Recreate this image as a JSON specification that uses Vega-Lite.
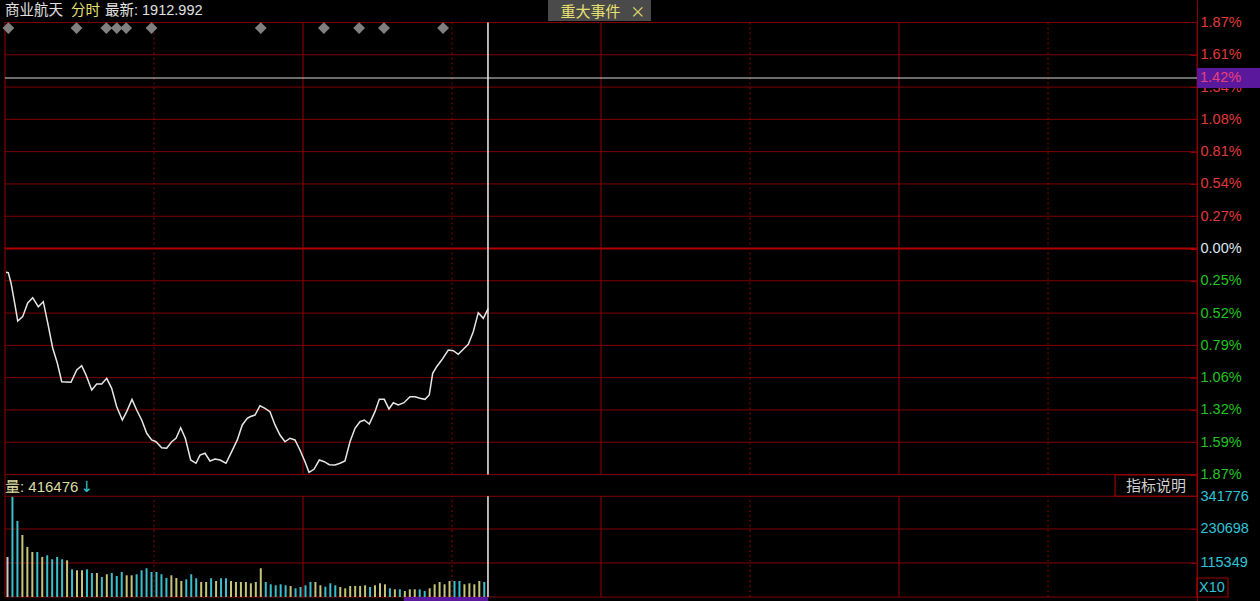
{
  "$schema": "https://vega.github.io/schema/vega-lite/v6.json",
  "width": 1260,
  "height": 601,
  "autosize": "none",
  "padding": 0,
  "background": "#000000",
  "config": {"view": {"stroke": null}, "font": "Liberation Sans, Noto Sans CJK SC", "scale": {"continuousPadding": 0}},
  "datasets": {
    "hgridpos": [{"p": 1.87}, {"p": 1.602857}, {"p": 1.335714}, {"p": 1.068571}, {"p": 0.801429}, {"p": 0.534286}, {"p": 0.267143}],
    "hgridneg": [{"p": -0.267143}, {"p": -0.534286}, {"p": -0.801429}, {"p": -1.068571}, {"p": -1.335714}, {"p": -1.602857}, {"p": -1.87}],
    "vsolid": [{"t": 0}, {"t": 60}, {"t": 120}, {"t": 180}, {"t": 240}],
    "vdot": [{"t": 30}, {"t": 90}, {"t": 150}, {"t": 210}],
    "price": [
      {"t": 0.2, "p": -0.197}, {"t": 0.66, "p": -0.2}, {"t": 1.21, "p": -0.285}, {"t": 2.01, "p": -0.467}, {"t": 2.56, "p": -0.6}, {"t": 3.56, "p": -0.564}, {"t": 4.57, "p": -0.451}, {"t": 5.58, "p": -0.407}, {"t": 6.7, "p": -0.482}, {"t": 7.71, "p": -0.44}, {"t": 8.6, "p": -0.616}, {"t": 9.6, "p": -0.823}, {"t": 10.53, "p": -0.947}, {"t": 11.42, "p": -1.102}, {"t": 13.29, "p": -1.107}, {"t": 14.44, "p": -1.005}, {"t": 15.44, "p": -0.97}, {"t": 16.31, "p": -1.047}, {"t": 17.46, "p": -1.171}, {"t": 18.46, "p": -1.121}, {"t": 19.47, "p": -1.121}, {"t": 20.48, "p": -1.074}, {"t": 21.48, "p": -1.157}, {"t": 22.49, "p": -1.309}, {"t": 23.62, "p": -1.419}, {"t": 24.5, "p": -1.35}, {"t": 25.57, "p": -1.248}, {"t": 26.51, "p": -1.336}, {"t": 27.52, "p": -1.419}, {"t": 28.53, "p": -1.529}, {"t": 29.53, "p": -1.584}, {"t": 30.4, "p": -1.599}, {"t": 31.55, "p": -1.648}, {"t": 32.55, "p": -1.653}, {"t": 33.56, "p": -1.599}, {"t": 34.43, "p": -1.57}, {"t": 35.37, "p": -1.483}, {"t": 36.3, "p": -1.57}, {"t": 37.39, "p": -1.75}, {"t": 38.45, "p": -1.777}, {"t": 39.26, "p": -1.709}, {"t": 40.27, "p": -1.694}, {"t": 41.27, "p": -1.758}, {"t": 42.28, "p": -1.742}, {"t": 43.29, "p": -1.75}, {"t": 44.49, "p": -1.777}, {"t": 45.64, "p": -1.681}, {"t": 46.77, "p": -1.584}, {"t": 47.77, "p": -1.46}, {"t": 48.78, "p": -1.405}, {"t": 49.33, "p": -1.392}, {"t": 50.33, "p": -1.378}, {"t": 51.34, "p": -1.301}, {"t": 52.35, "p": -1.322}, {"t": 53.35, "p": -1.35}, {"t": 54.36, "p": -1.46}, {"t": 55.37, "p": -1.543}, {"t": 56.37, "p": -1.599}, {"t": 57.38, "p": -1.57}, {"t": 58.38, "p": -1.584}, {"t": 59.39, "p": -1.667}, {"t": 60.4, "p": -1.764}, {"t": 61.21, "p": -1.852}, {"t": 62.21, "p": -1.827}, {"t": 63.28, "p": -1.75}, {"t": 64.28, "p": -1.764}, {"t": 65.29, "p": -1.789}, {"t": 66.44, "p": -1.791}, {"t": 67.45, "p": -1.777}, {"t": 68.45, "p": -1.758}, {"t": 69.46, "p": -1.599}, {"t": 70.47, "p": -1.488}, {"t": 71.47, "p": -1.433}, {"t": 72.34, "p": -1.419}, {"t": 73.35, "p": -1.452}, {"t": 74.49, "p": -1.35}, {"t": 75.36, "p": -1.248}, {"t": 76.36, "p": -1.248}, {"t": 77.31, "p": -1.328}, {"t": 78.18, "p": -1.276}, {"t": 79.18, "p": -1.295}, {"t": 80.33, "p": -1.276}, {"t": 81.54, "p": -1.226}, {"t": 82.55, "p": -1.226}, {"t": 83.55, "p": -1.239}, {"t": 84.56, "p": -1.248}, {"t": 85.42, "p": -1.212}, {"t": 86.11, "p": -1.033}, {"t": 86.91, "p": -0.978}, {"t": 87.92, "p": -0.923}, {"t": 89.25, "p": -0.84}, {"t": 90.26, "p": -0.846}, {"t": 91.26, "p": -0.875}, {"t": 92.27, "p": -0.834}, {"t": 93.28, "p": -0.793}, {"t": 94.28, "p": -0.688}, {"t": 95.29, "p": -0.531}, {"t": 96.3, "p": -0.578}, {"t": 97.3, "p": -0.495}
    ],
    "events": [{"t": 0.68}, {"t": 14.4}, {"t": 20.4}, {"t": 22.5}, {"t": 24.4}, {"t": 29.5}, {"t": 51.5}, {"t": 64.2}, {"t": 71.3}, {"t": 76.3}, {"t": 88.2}],
    "vol": [
      {"t": 0.5, "v": 135800, "k": "n"}, {"t": 1.5, "v": 340000, "k": "d"}, {"t": 2.5, "v": 258000, "k": "d"}, {"t": 3.5, "v": 210400, "k": "u"}, {"t": 4.5, "v": 169700, "k": "u"}, {"t": 5.5, "v": 152700, "k": "u"}, {"t": 6.5, "v": 152700, "k": "d"}, {"t": 7.5, "v": 135800, "k": "u"}, {"t": 8.5, "v": 141500, "k": "d"}, {"t": 9.5, "v": 128000, "k": "d"},
      {"t": 10.5, "v": 135800, "k": "d"}, {"t": 11.5, "v": 128000, "k": "d"}, {"t": 12.5, "v": 124500, "k": "u"}, {"t": 13.5, "v": 94000, "k": "d"}, {"t": 14.5, "v": 90600, "k": "u"}, {"t": 15.5, "v": 90600, "k": "u"}, {"t": 16.5, "v": 94000, "k": "d"}, {"t": 17.5, "v": 81500, "k": "d"}, {"t": 18.5, "v": 81500, "k": "u"}, {"t": 19.5, "v": 67900, "k": "d"},
      {"t": 20.5, "v": 77000, "k": "u"}, {"t": 21.5, "v": 81500, "k": "d"}, {"t": 22.5, "v": 71300, "k": "d"}, {"t": 23.5, "v": 84900, "k": "d"}, {"t": 24.5, "v": 73600, "k": "u"}, {"t": 25.5, "v": 73600, "k": "u"}, {"t": 26.5, "v": 77000, "k": "d"}, {"t": 27.5, "v": 90600, "k": "d"}, {"t": 28.5, "v": 97400, "k": "d"}, {"t": 29.5, "v": 84900, "k": "d"},
      {"t": 30.5, "v": 84900, "k": "d"}, {"t": 31.5, "v": 77000, "k": "d"}, {"t": 32.5, "v": 64500, "k": "d"}, {"t": 33.5, "v": 73600, "k": "u"}, {"t": 34.5, "v": 64500, "k": "u"}, {"t": 35.5, "v": 54300, "k": "u"}, {"t": 36.5, "v": 60000, "k": "d"}, {"t": 37.5, "v": 77000, "k": "d"}, {"t": 38.5, "v": 63500, "k": "d"}, {"t": 39.5, "v": 50900, "k": "u"},
      {"t": 40.5, "v": 50900, "k": "u"}, {"t": 41.5, "v": 63500, "k": "d"}, {"t": 42.5, "v": 54300, "k": "u"}, {"t": 43.5, "v": 63500, "k": "d"}, {"t": 44.5, "v": 63500, "k": "d"}, {"t": 45.5, "v": 54300, "k": "u"}, {"t": 46.5, "v": 50900, "k": "u"}, {"t": 47.5, "v": 50900, "k": "u"}, {"t": 48.5, "v": 50900, "k": "u"}, {"t": 49.5, "v": 46500, "k": "u"},
      {"t": 50.5, "v": 50900, "k": "u"}, {"t": 51.5, "v": 97400, "k": "u"}, {"t": 52.5, "v": 50900, "k": "d"}, {"t": 53.5, "v": 43100, "k": "d"}, {"t": 54.5, "v": 39700, "k": "d"}, {"t": 55.5, "v": 43100, "k": "d"}, {"t": 56.5, "v": 39700, "k": "d"}, {"t": 57.5, "v": 37300, "k": "u"}, {"t": 58.5, "v": 29500, "k": "d"}, {"t": 59.5, "v": 33900, "k": "d"},
      {"t": 60.5, "v": 39700, "k": "d"}, {"t": 61.5, "v": 50900, "k": "d"}, {"t": 62.5, "v": 50900, "k": "u"}, {"t": 63.5, "v": 39700, "k": "u"}, {"t": 64.5, "v": 35000, "k": "d"}, {"t": 65.5, "v": 46500, "k": "d"}, {"t": 66.5, "v": 39700, "k": "d"}, {"t": 67.5, "v": 33900, "k": "u"}, {"t": 68.5, "v": 29500, "k": "u"}, {"t": 69.5, "v": 37300, "k": "u"},
      {"t": 70.5, "v": 37300, "k": "u"}, {"t": 71.5, "v": 37300, "k": "u"}, {"t": 72.5, "v": 39700, "k": "u"}, {"t": 73.5, "v": 33900, "k": "d"}, {"t": 74.5, "v": 39700, "k": "u"}, {"t": 75.5, "v": 46500, "k": "u"}, {"t": 76.5, "v": 43100, "k": "u"}, {"t": 77.5, "v": 29500, "k": "d"}, {"t": 78.5, "v": 26100, "k": "u"}, {"t": 79.5, "v": 26100, "k": "d"},
      {"t": 80.5, "v": 20400, "k": "u"}, {"t": 81.5, "v": 26100, "k": "u"}, {"t": 82.5, "v": 26100, "k": "u"}, {"t": 83.5, "v": 26100, "k": "d"}, {"t": 84.5, "v": 20400, "k": "d"}, {"t": 85.5, "v": 29500, "k": "u"}, {"t": 86.5, "v": 43100, "k": "u"}, {"t": 87.5, "v": 50900, "k": "u"}, {"t": 88.5, "v": 43100, "k": "u"}, {"t": 89.5, "v": 54300, "k": "u"},
      {"t": 90.5, "v": 54300, "k": "d"}, {"t": 91.5, "v": 54300, "k": "d"}, {"t": 92.5, "v": 43100, "k": "u"}, {"t": 93.5, "v": 46500, "k": "u"}, {"t": 94.5, "v": 43100, "k": "u"}, {"t": 95.5, "v": 54300, "k": "u"}, {"t": 96.5, "v": 50900, "k": "d"}
    ]
  },
  "resolve": {"scale": {"y": "independent"}},
  "layer": [
    {
      "data": {"name": "hgridpos"},
      "mark": {"type": "rule", "color": "#800000", "strokeWidth": 1},
      "encoding": {
        "x": {"datum": 0, "type": "quantitative", "scale": {"domain": [-1.0067, 252.68], "nice": false, "zero": false, "padding": 0}, "axis": null},
        "x2": {"datum": 240},
        "y": {"field": "p", "type": "quantitative", "scale": {"domain": [-2.9166, 2.0561], "nice": false, "zero": false},
          "axis": {
            "orient": "right", "offset": -63, "title": null, "grid": false,
            "values": [0.267143, 0.534286, 0.801429, 1.068571, 1.335714, 1.602857, 1.87],
            "labelExpr": "['0.27%','0.54%','0.81%','1.08%','1.34%','1.61%','1.87%'][round(datum.value/0.267143)-1]",
            "labelColor": "#e03a3a",
            "labelFont": "Liberation Sans", "labelFontSize": 14.5, "labelPadding": 10, "labelFlush": false, "labelOverlap": false, "labelBound": false,
            "ticks": true, "tickSize": -7, "tickColor": "#8b0000", "domain": true, "domainColor": "#8b0000"
          }
        }
      }
    },
    {
      "data": {"name": "hgridneg"},
      "mark": {"type": "rule", "color": "#800000", "strokeWidth": 1},
      "encoding": {
        "x": {"datum": 0, "type": "quantitative"},
        "x2": {"datum": 240},
        "y": {"field": "p", "type": "quantitative", "scale": {"domain": [-2.9166, 2.0561], "nice": false, "zero": false},
          "axis": {
            "orient": "right", "offset": -63, "title": null, "grid": false,
            "values": [-0.267143, -0.534286, -0.801429, -1.068571, -1.335714, -1.602857, -1.87],
            "labelExpr": "['0.25%','0.52%','0.79%','1.06%','1.32%','1.59%','1.87%'][round(-datum.value/0.267143)-1]",
            "labelColor": "#22c422",
            "labelFont": "Liberation Sans", "labelFontSize": 14.5, "labelPadding": 10, "labelFlush": false, "labelOverlap": false, "labelBound": false,
            "ticks": true, "tickSize": -7, "tickColor": "#8b0000", "domain": false
          }
        }
      }
    },
    {
      "data": {"values": [{"p": 0}]},
      "mark": {"type": "rule", "color": "#b00000", "strokeWidth": 2.2},
      "encoding": {
        "x": {"datum": 0, "type": "quantitative"},
        "x2": {"datum": 240},
        "y": {"field": "p", "type": "quantitative", "scale": {"domain": [-2.9166, 2.0561], "nice": false, "zero": false},
          "axis": {
            "orient": "right", "offset": -63, "title": null, "grid": false,
            "values": [0], "labelExpr": "'0.00%'",
            "labelColor": "#dde6f0",
            "labelFont": "Liberation Sans", "labelFontSize": 14.5, "labelPadding": 10, "labelFlush": false, "labelOverlap": false, "labelBound": false,
            "ticks": true, "tickSize": -7, "tickColor": "#c00000", "domain": false
          }
        }
      }
    },
    {
      "data": {"name": "vsolid"},
      "mark": {"type": "rule", "color": "#800000", "strokeWidth": 1.2},
      "encoding": {
        "x": {"field": "t", "type": "quantitative"},
        "y": {"datum": 1.87, "type": "quantitative", "scale": {"domain": [-2.9166, 2.0561], "nice": false, "zero": false}, "axis": null},
        "y2": {"datum": -1.87}
      }
    },
    {
      "data": {"name": "vdot"},
      "mark": {"type": "rule", "color": "#900000", "strokeWidth": 1, "strokeDash": [2, 3]},
      "encoding": {
        "x": {"field": "t", "type": "quantitative"},
        "y": {"datum": 1.87, "type": "quantitative", "scale": {"domain": [-2.9166, 2.0561], "nice": false, "zero": false}, "axis": null},
        "y2": {"datum": -1.87}
      }
    },
    {
      "data": {"values": [{"v": 0}, {"v": 115349}, {"v": 230698}, {"v": 341776}]},
      "mark": {"type": "rule", "color": "#800000", "strokeWidth": 1},
      "encoding": {
        "x": {"datum": 0, "type": "quantitative"},
        "x2": {"datum": 240},
        "y": {"field": "v", "type": "quantitative", "scale": {"domain": [-13570, 2025380], "nice": false, "zero": false},
          "axis": {
            "orient": "right", "offset": -63, "title": null, "grid": false,
            "values": [115349, 230698, 341776], "format": "d",
            "labelColor": "#2ec4d8", "labelFont": "Liberation Sans", "labelFontSize": 14.5, "labelPadding": 10, "labelFlush": false, "labelOverlap": false, "labelBound": false,
            "ticks": true, "tickSize": -7, "tickColor": "#8b0000", "domain": false
          }
        }
      }
    },
    {
      "data": {"name": "vsolid"},
      "mark": {"type": "rule", "color": "#800000", "strokeWidth": 1.2},
      "encoding": {
        "x": {"field": "t", "type": "quantitative"},
        "y": {"datum": 0, "type": "quantitative", "scale": {"domain": [-13570, 2025380], "nice": false, "zero": false}, "axis": null},
        "y2": {"datum": 341776}
      }
    },
    {
      "data": {"name": "vdot"},
      "mark": {"type": "rule", "color": "#900000", "strokeWidth": 1, "strokeDash": [2, 3]},
      "encoding": {
        "x": {"field": "t", "type": "quantitative"},
        "y": {"datum": 0, "type": "quantitative", "scale": {"domain": [-13570, 2025380], "nice": false, "zero": false}, "axis": null},
        "y2": {"datum": 341776}
      }
    },
    {
      "data": {"values": [{"t": 0}]},
      "mark": {"type": "rule", "color": "#800000", "strokeWidth": 1.2},
      "encoding": {
        "x": {"field": "t", "type": "quantitative"},
        "y": {"datum": 341776, "type": "quantitative", "scale": {"domain": [-13570, 2025380], "nice": false, "zero": false}, "axis": null},
        "y2": {"datum": 413900}
      }
    },
    {
      "data": {"name": "vol"},
      "mark": {"type": "bar", "width": 2},
      "encoding": {
        "x": {"field": "t", "type": "quantitative"},
        "y": {"field": "v", "type": "quantitative", "scale": {"domain": [-13570, 2025380], "nice": false, "zero": false}, "axis": null},
        "color": {"field": "k", "type": "nominal", "scale": {"domain": ["n", "d", "u"], "range": ["#c8c8c8", "#3cbfcc", "#c4c47a"]}, "legend": null}
      }
    },
    {
      "data": {"values": [{}]},
      "mark": {"type": "rect", "color": "#5a189c"},
      "encoding": {
        "x": {"datum": 80.3, "type": "quantitative"},
        "x2": {"datum": 97.3},
        "y": {"datum": 0, "type": "quantitative", "scale": {"domain": [-13570, 2025380], "nice": false, "zero": false}, "axis": null},
        "y2": {"datum": -13570}
      }
    },
    {
      "data": {"values": [{"p": 1.4107}]},
      "mark": {"type": "rule", "color": "#d8d8d8", "strokeWidth": 1.2},
      "encoding": {
        "x": {"datum": 0, "type": "quantitative"},
        "x2": {"datum": 240},
        "y": {"field": "p", "type": "quantitative", "scale": {"domain": [-2.9166, 2.0561], "nice": false, "zero": false}, "axis": null}
      }
    },
    {
      "data": {"values": [{"t": 97.24}]},
      "mark": {"type": "rule", "color": "#eeeeee", "strokeWidth": 1.5},
      "encoding": {
        "x": {"field": "t", "type": "quantitative"},
        "y": {"datum": 1.87, "type": "quantitative", "scale": {"domain": [-2.9166, 2.0561], "nice": false, "zero": false}, "axis": null},
        "y2": {"datum": -1.87}
      }
    },
    {
      "data": {"values": [{"t": 97.24}]},
      "mark": {"type": "rule", "color": "#eeeeee", "strokeWidth": 1.5},
      "encoding": {
        "x": {"field": "t", "type": "quantitative"},
        "y": {"datum": 0, "type": "quantitative", "scale": {"domain": [-13570, 2025380], "nice": false, "zero": false}, "axis": null},
        "y2": {"datum": 341776}
      }
    },
    {
      "data": {"name": "price"},
      "mark": {"type": "line", "color": "#e6e6e6", "strokeWidth": 1.5},
      "encoding": {
        "x": {"field": "t", "type": "quantitative"},
        "y": {"field": "p", "type": "quantitative", "scale": {"domain": [-2.9166, 2.0561], "nice": false, "zero": false}, "axis": null}
      }
    },
    {
      "data": {"name": "events"},
      "mark": {"type": "point", "shape": "diamond", "filled": true, "color": "#808080", "size": 140, "opacity": 1},
      "encoding": {
        "x": {"field": "t", "type": "quantitative"},
        "y": {"datum": 1.824, "type": "quantitative", "scale": {"domain": [-2.9166, 2.0561], "nice": false, "zero": false}, "axis": null}
      }
    },
    {
      "data": {"values": [{"t": 0, "txt": "商业航天"}, {"t": 20.13, "txt": "最新: 1912.992"}]},
      "mark": {"type": "text", "align": "left", "baseline": "middle", "fontSize": 14.5, "color": "#e0e0e0"},
      "encoding": {
        "x": {"field": "t", "type": "quantitative"},
        "y": {"datum": 1.965, "type": "quantitative", "scale": {"domain": [-2.9166, 2.0561], "nice": false, "zero": false}, "axis": null},
        "text": {"field": "txt"}
      }
    },
    {
      "data": {"values": [{"t": 13.29, "txt": "分时"}]},
      "mark": {"type": "text", "align": "left", "baseline": "middle", "fontSize": 14.5, "color": "#e8e070"},
      "encoding": {
        "x": {"field": "t", "type": "quantitative"},
        "y": {"datum": 1.965, "type": "quantitative", "scale": {"domain": [-2.9166, 2.0561], "nice": false, "zero": false}, "axis": null},
        "text": {"field": "txt"}
      }
    },
    {
      "data": {"values": [{}]},
      "mark": {"type": "rect", "color": "#4a4a4a"},
      "encoding": {
        "x": {"datum": 109.32, "type": "quantitative"},
        "x2": {"datum": 130.06},
        "y": {"datum": 2.0561, "type": "quantitative", "scale": {"domain": [-2.9166, 2.0561], "nice": false, "zero": false}, "axis": null},
        "y2": {"datum": 1.882}
      }
    },
    {
      "data": {"values": [{"t": 117.9, "txt": "重大事件"}, {"t": 127.4, "txt": "×"}]},
      "mark": {"type": "text", "align": "center", "baseline": "middle", "fontSize": 15, "color": "#e8e070", "font": "Noto Sans CJK SC"},
      "encoding": {
        "x": {"field": "t", "type": "quantitative"},
        "y": {"datum": 1.955, "type": "quantitative", "scale": {"domain": [-2.9166, 2.0561], "nice": false, "zero": false}, "axis": null},
        "text": {"field": "txt"}
      }
    },
    {
      "data": {"values": [{}]},
      "mark": {"type": "rect", "color": "#5a189c"},
      "encoding": {
        "x": {"datum": 240, "type": "quantitative"},
        "x2": {"datum": 252.68},
        "y": {"datum": 1.4935, "type": "quantitative", "scale": {"domain": [-2.9166, 2.0561], "nice": false, "zero": false}, "axis": null},
        "y2": {"datum": 1.328}
      }
    },
    {
      "data": {"values": [{"txt": "1.42%"}]},
      "mark": {"type": "text", "align": "left", "baseline": "middle", "fontSize": 14.5, "color": "#e8407a", "font": "Liberation Sans"},
      "encoding": {
        "x": {"datum": 240.6, "type": "quantitative"},
        "y": {"datum": 1.4107, "type": "quantitative", "scale": {"domain": [-2.9166, 2.0561], "nice": false, "zero": false}, "axis": null},
        "text": {"field": "txt"}
      }
    },
    {
      "data": {"values": [{"txt": "量: 416476"}]},
      "mark": {"type": "text", "align": "left", "baseline": "middle", "fontSize": 15, "color": "#dcdca0"},
      "encoding": {
        "x": {"datum": 0, "type": "quantitative"},
        "y": {"datum": 373185, "type": "quantitative", "scale": {"domain": [-13570, 2025380], "nice": false, "zero": false}, "axis": null},
        "text": {"field": "txt"}
      }
    },
    {
      "data": {"values": [{"txt": "↓"}]},
      "mark": {"type": "text", "align": "left", "baseline": "middle", "fontSize": 15, "color": "#2ec4d8", "font": "DejaVu Sans"},
      "encoding": {
        "x": {"datum": 15.2, "type": "quantitative"},
        "y": {"datum": 373185, "type": "quantitative", "scale": {"domain": [-13570, 2025380], "nice": false, "zero": false}, "axis": null},
        "text": {"field": "txt"}
      }
    },
    {
      "data": {"values": [{}]},
      "mark": {"type": "rect", "fill": "#000000", "fillOpacity": 0, "stroke": "#9a0000", "strokeWidth": 1.2},
      "encoding": {
        "x": {"datum": 223.5, "type": "quantitative"},
        "x2": {"datum": 240},
        "y": {"datum": 341776, "type": "quantitative", "scale": {"domain": [-13570, 2025380], "nice": false, "zero": false}, "axis": null},
        "y2": {"datum": 413900}
      }
    },
    {
      "data": {"values": [{"txt": "指标说明"}]},
      "mark": {"type": "text", "align": "center", "baseline": "middle", "fontSize": 15, "color": "#cfcfcf", "font": "Noto Sans CJK SC"},
      "encoding": {
        "x": {"datum": 231.75, "type": "quantitative"},
        "y": {"datum": 376000, "type": "quantitative", "scale": {"domain": [-13570, 2025380], "nice": false, "zero": false}, "axis": null},
        "text": {"field": "txt"}
      }
    },
    {
      "data": {"values": [{}]},
      "mark": {"type": "rect", "fill": "#000000", "fillOpacity": 0, "stroke": "#9a0000", "strokeWidth": 1.2},
      "encoding": {
        "x": {"datum": 240, "type": "quantitative"},
        "x2": {"datum": 246.24},
        "y": {"datum": 0, "type": "quantitative", "scale": {"domain": [-13570, 2025380], "nice": false, "zero": false}, "axis": null},
        "y2": {"datum": 64460}
      }
    },
    {
      "data": {"values": [{"txt": "X10"}]},
      "mark": {"type": "text", "align": "left", "baseline": "middle", "fontSize": 14.5, "color": "#2ec4d8", "font": "Liberation Sans"},
      "encoding": {
        "x": {"datum": 240.4, "type": "quantitative"},
        "y": {"datum": 30530, "type": "quantitative", "scale": {"domain": [-13570, 2025380], "nice": false, "zero": false}, "axis": null},
        "text": {"field": "txt"}
      }
    }
  ]
}
